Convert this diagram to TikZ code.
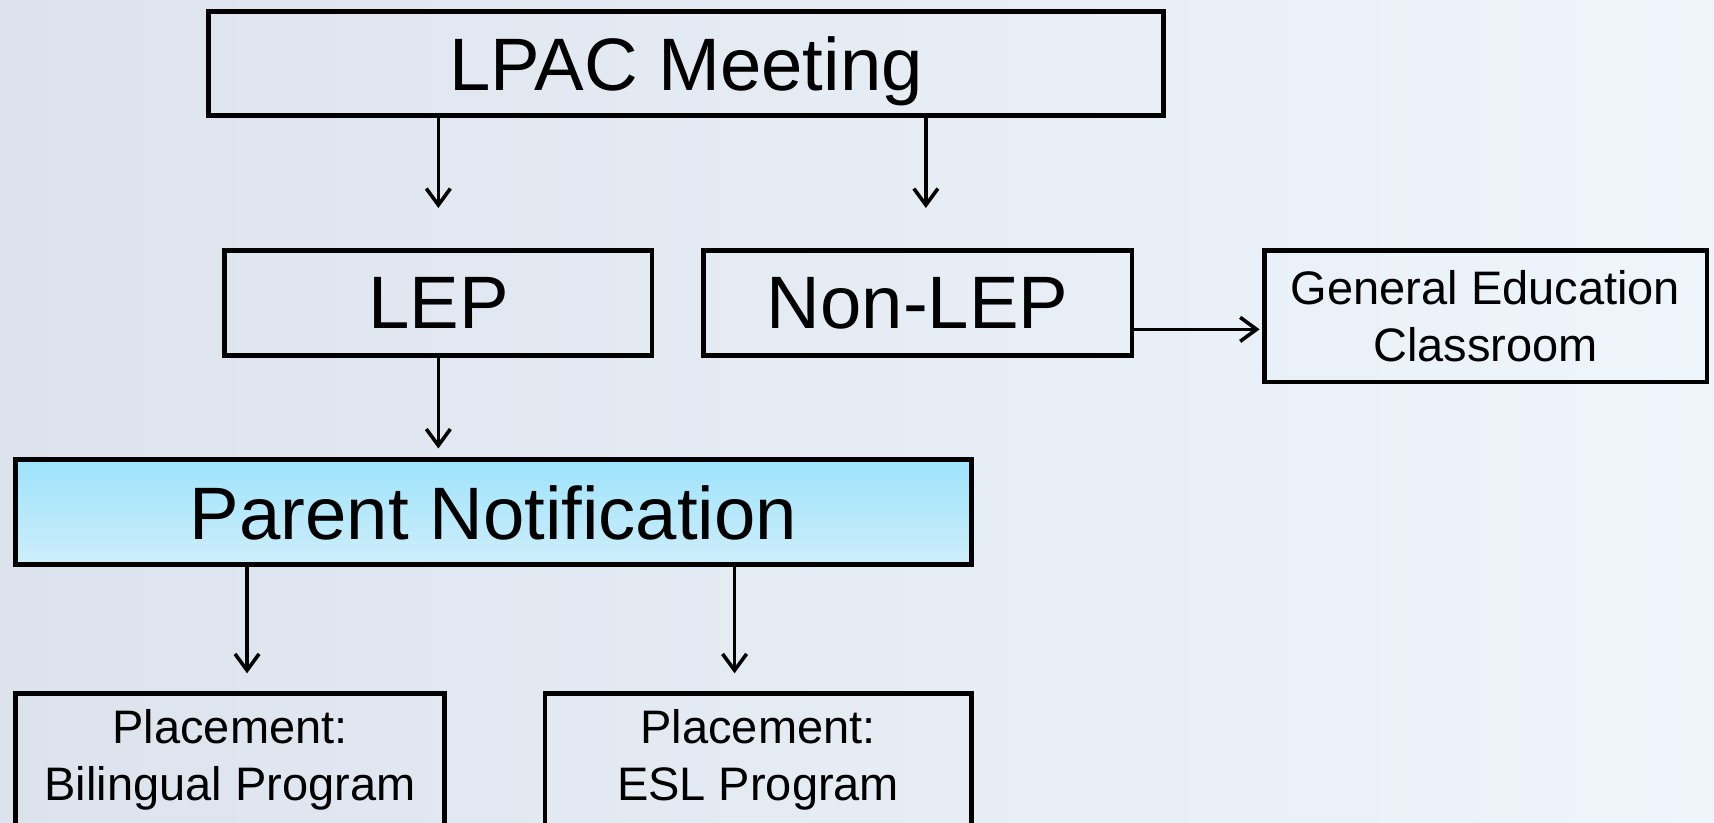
\documentclass[tikz,border=0pt]{standalone}
\usepackage{fontspec}
\setmainfont{Liberation Sans}
\usetikzlibrary{arrows.meta,calc}
\definecolor{bgleft}{RGB}{221,227,237}
\definecolor{bgright}{RGB}{238,245,251}
\definecolor{pntop}{RGB}{158,227,252}
\definecolor{pnbot}{RGB}{206,238,250}
\begin{document}
\begin{tikzpicture}[x=1pt,y=1pt,
  box/.style={draw=black, line width=4.4pt, inner sep=0pt, align=center, text=black},
  big/.style={font=\fontsize{68}{80}\selectfont},
  small/.style={font=\fontsize{43}{52}\selectfont},
  arr/.style={line width=3.3pt, -{Straight Barb[length=15pt,width=22pt]}}]
\useasboundingbox (0,0) rectangle (1568,752);
\clip (0,0) rectangle (1568,752);
\shade[left color=bgleft, right color=bgright] (0,0) rectangle (1568,752);

\node[box, big, minimum width=874pt, minimum height=95pt, text depth=0pt] (lpac) at (627.5,694) {LPAC Meeting};
\node[box, big, minimum width=391pt, minimum height=96pt, text depth=0pt] (lep) at (401,474.5) {LEP};
\node[box, big, minimum width=392pt, minimum height=96pt, text depth=0pt] (nonlep) at (839.5,474.5) {Non-LEP};
\node[box, small, minimum width=405pt, minimum height=120pt] (gened) at (1359,462.5) {General Education\\Classroom};
\node[box, big, minimum width=874pt, minimum height=96pt, text depth=0pt, top color=pntop, bottom color=pnbot] (parent) at (451.5,283.5) {Parent Notification};
\node[box, minimum width=392pt, minimum height=200pt, anchor=north] (bil) at (210.5,120) {};
\node[small, align=center, inner sep=0pt] (biltext) at (210.5,57) {Placement:\\Bilingual Program};
\node[box, minimum width=390pt, minimum height=200pt, anchor=north] (esl) at (693.5,120) {};
\node[small, align=center, inner sep=0pt] (esltext) at (693.5,57) {Placement:\\ESL Program};

\draw[arr] (lpac.south -| lep.north) -- ([yshift=37pt]lep.north);
\draw[arr] ([xshift=7.5pt]nonlep.north |- lpac.south) -- ([xshift=7.5pt,yshift=37pt]nonlep.north);
\draw[arr] (lep.south) -- ([yshift=8pt]parent.north -| lep.south);
\draw[arr] ([yshift=-23.8pt]nonlep.east) -- ([yshift=-23.8pt,xshift=-2pt]nonlep.east -| gened.west);
\draw[arr] ([xshift=15.5pt]bil.north |- parent.south) -- ([xshift=15.5pt,yshift=16pt]bil.north);
\draw[arr] ([xshift=-21.5pt]esl.north |- parent.south) -- ([xshift=-21.5pt,yshift=16pt]esl.north);
\end{tikzpicture}
\end{document}
